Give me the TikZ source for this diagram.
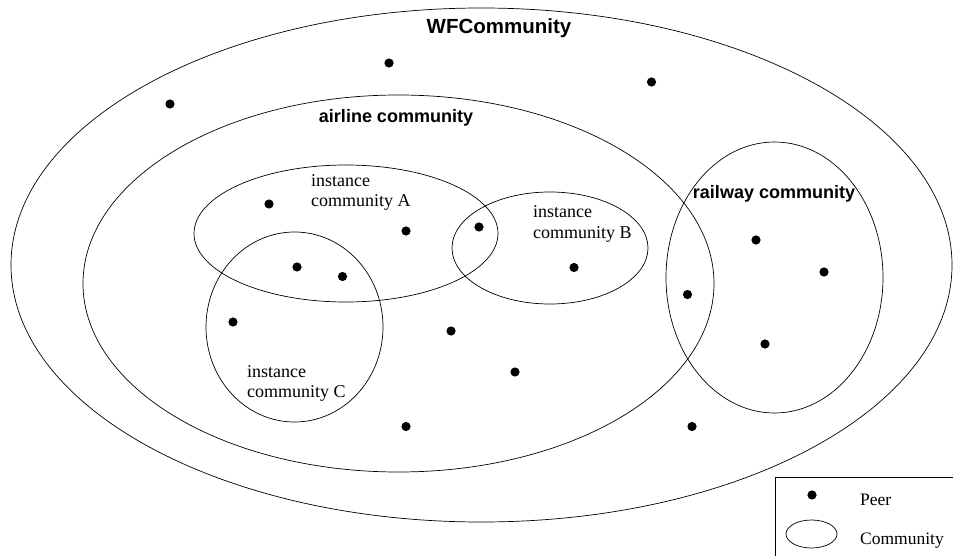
\documentclass[tikz,border=0pt]{standalone}
\usepackage{fontspec}
\setmainfont{Liberation Serif}
\newfontfamily\headfont{Liberation Sans}
\begin{document}
\begin{tikzpicture}[x=1pt,y=-1pt,
  community/.style={draw=black,line width=0.7pt},
  peer/.style={circle,fill=black,inner sep=0pt,minimum size=9.2pt},
  grouptitle/.style={font=\headfont\bfseries\fontsize{18}{20}\selectfont,inner sep=0pt,anchor=base},
  instlabel/.style={font=\fontsize{18}{20}\selectfont,inner sep=0pt,anchor=base west},
  legendtext/.style={font=\fontsize{17.5}{20}\selectfont,inner sep=0pt,anchor=base west}]
\useasboundingbox (0,0) rectangle (953,556);

% communities
\draw[community] (481.5,265) ellipse [x radius=470.5,y radius=257];   % WFCommunity
\draw[community] (398.5,283.5) ellipse [x radius=315.5,y radius=188.5]; % airline
\draw[community] (774.5,277.5) ellipse [x radius=108.5,y radius=135.5]; % railway
\draw[community] (346,233.5) ellipse [x radius=152,y radius=68.5];     % instance A
\draw[community] (550,248) ellipse [x radius=98,y radius=56];          % instance B
\draw[community] (294.5,327) ellipse [x radius=88.5,y radius=95];      % instance C

% community titles
\node[grouptitle,font=\headfont\bfseries\fontsize{20.5}{22}\selectfont] (wf) at (499,34) {WFCommunity};
\node[grouptitle] (air) at (396,123) {airline community};
\node[grouptitle] (rail) at (774,199) {railway community};

\node[instlabel] (a1) at (311,187) {instance};
\node[instlabel] (a2) at (311,207) {community A};
\node[instlabel] (b1) at (533,218) {instance};
\node[instlabel] (b2) at (533,238) {community B};
\node[instlabel] (c1) at (247,377) {instance};
\node[instlabel] (c2) at (247,397) {community C};

% peers
\node[peer] (p1)  at (389,63) {};
\node[peer] (p2)  at (651.5,82) {};
\node[peer] (p3)  at (170,104) {};
\node[peer] (p4)  at (269,204) {};
\node[peer] (p5)  at (406,231) {};
\node[peer] (p6)  at (479,227) {};
\node[peer] (p7)  at (297,267) {};
\node[peer] (p8)  at (342.5,276.5) {};
\node[peer] (p9)  at (574,267.5) {};
\node[peer] (p10) at (233,322) {};
\node[peer] (p11) at (451,331) {};
\node[peer] (p12) at (515,372) {};
\node[peer] (p13) at (406,426.5) {};
\node[peer] (p14) at (692,426.5) {};
\node[peer] (p15) at (687.5,294.5) {};
\node[peer] (p16) at (756,240) {};
\node[peer] (p17) at (824,272) {};
\node[peer] (p18) at (765,344) {};

% legend
\draw[line width=0.7pt] (953,477) -- (775,477) -- (775,556);
\node[peer] (lpeer) at (812,495) {};
\draw[community] (811.5,534) ellipse [x radius=25.5,y radius=14];
\node[legendtext] (lp) at (860,505) {Peer};
\node[legendtext] (lc) at (860,544) {Community};
\end{tikzpicture}
\end{document}
